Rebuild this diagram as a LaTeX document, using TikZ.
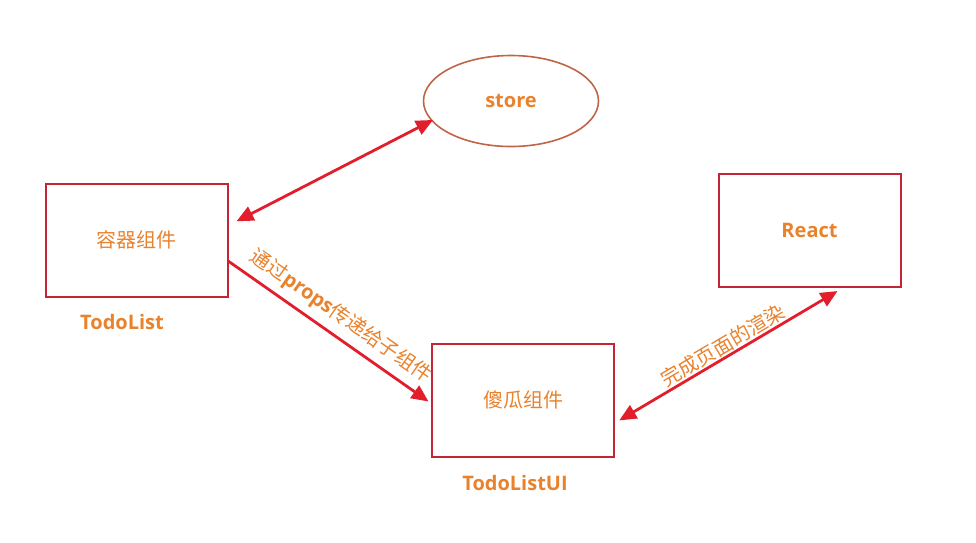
\documentclass[tikz,border=0pt]{standalone}
\usepackage{fontspec}
\setmainfont{Open Sans}
\newfontfamily\cjk{Noto Sans CJK SC}
\usetikzlibrary{arrows.meta,shapes.geometric}
\definecolor{boxred}{RGB}{196,36,52}
\definecolor{arrowred}{RGB}{226,30,45}
\definecolor{ovalbrown}{RGB}{192,100,72}
\definecolor{labelorange}{RGB}{232,130,45}

\begin{document}
\begin{tikzpicture}[x=1pt,y=-1pt,>={Triangle[length=17pt,width=15pt]},
  box node/.style={draw=boxred,line width=2pt,minimum width=182pt,minimum height=113pt,inner sep=0pt,text=labelorange,font=\cjk\fontsize{20}{20}\selectfont},
  oval node/.style={ellipse,draw=ovalbrown,line width=1.6pt,minimum width=175pt,minimum height=91pt,inner sep=0pt,text=labelorange,font=\bfseries\fontsize{20}{20}\selectfont},
  name node/.style={text=labelorange,font=\bfseries\fontsize{20}{20}\selectfont},
  link/.style={draw=arrowred,line width=2.8pt},
  link text/.style={sloped,text=labelorange,font=\cjk\fontsize{20}{20}\selectfont}]
  \useasboundingbox (0,0) rectangle (976,542);
  \node[box node] (container) at (136.5,240) {容器组件};
  \node[name node] (containername) at (122,322) {TodoList};
  \node[oval node] (store) at (511,101) {store};
  \node[box node] (dumb) at (523,400) {傻瓜组件};
  \node[name node] (dumbname) at (515,483) {TodoListUI};
  \node[box node,font=\bfseries\fontsize{20}{20}\selectfont] (react) at (809.5,230.5) {React};

  \path
    (store.194) edge[link,<->,shorten <=-2pt,shorten >=9pt] (container.9)
    (container.-13) edge[link,->,shorten >=3pt] node[link text,above=4pt] {通过{\fontspec{Open Sans}\bfseries props}传递给子组件} (dumb.182)
    (dumb.-14) edge[link,<->,shorten <=5pt,shorten >=6pt] node[link text,above,inner sep=1pt] {完成页面的渲染} (react.-60)
    ;
\end{tikzpicture}
\end{document}
